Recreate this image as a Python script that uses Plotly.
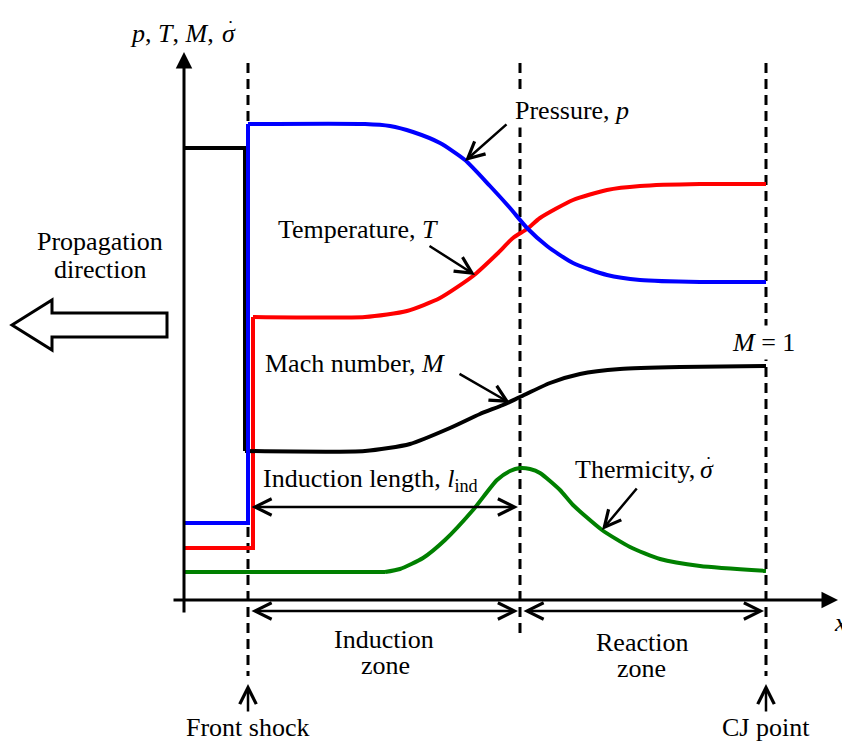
import plotly.graph_objects as go

# Schematic units: origin at the axes crossing, x to the right, y upward
# ---- curve data ----
p_step_x = [0, 64, 64]
p_step_y = [77, 77, 476]
p_x = [64, 181, 206, 229, 256, 281, 306, 326, 343, 363, 389, 423, 456, 516, 582]
p_y = [476, 476, 474, 468, 457, 440, 414, 392, 372, 354, 337, 325, 320, 318, 318]

T_step_x = [0, 69, 69]
T_step_y = [52, 52, 283]
T_x = [69, 181, 223, 256, 289, 313, 329, 343, 356, 389, 423, 456, 516, 582]
T_y = [283, 283, 289, 302, 324, 346, 362, 371, 382, 400, 410, 414, 416, 416]

M_step_x = [0, 61, 61]
M_step_y = [452, 452, 149]
M_x = [61, 181, 226, 266, 296, 319, 336, 366, 396, 436, 496, 582]
M_y = [149, 149, 156, 172, 186, 195, 203, 217, 226, 231, 233, 234]

s_step_x = [0, 201]
s_step_y = [28, 28]
s_x = [201, 216, 239, 261, 289, 313, 326, 336, 346, 356, 376, 389, 418, 446, 476, 516, 582]
s_y = [28, 31, 42, 60, 90, 120, 129, 132, 131, 127, 110, 95, 70, 53, 41, 34, 29]

# key stations along x
x_shock = 64
x_ind = 336
x_cj = 582

# hollow "propagation direction" arrow outline
prop_x = [-172, -132, -132, -17, -17, -132, -132]
prop_y = [275, 300, 287, 287, 263, 263, 250]

FONT = "Times New Roman, Liberation Serif, serif"
fig = go.Figure()

def add_line(x, y, color, shape="linear"):
    fig.add_trace(go.Scatter(x=x, y=y, mode="lines",
                             line=dict(color=color, width=4, shape=shape, smoothing=0.6),
                             hoverinfo="skip", showlegend=False))

add_line(s_step_x, s_step_y, "#008000")
add_line(s_x, s_y, "#008000", "spline")
add_line(T_step_x, T_step_y, "#ff0000")
add_line(T_x, T_y, "#ff0000", "spline")
add_line(M_step_x, M_step_y, "#000000")
add_line(M_x, M_y, "#000000", "spline")
add_line(p_step_x, p_step_y, "#0000ff")
add_line(p_x, p_y, "#0000ff", "spline")

shapes = []
# dashed station lines
for xs, ybot in [(x_shock, -76), (x_ind, -36), (x_cj, -76)]:
    shapes.append(dict(type="line", xref="x", yref="y", x0=xs, x1=xs, y0=537, y1=ybot,
                       line=dict(color="black", width=3, dash="10px,6px"), layer="below"))
# hollow arrow
path = "M " + " L ".join(f"{a} {b}" for a, b in zip(prop_x, prop_y)) + " Z"
shapes.append(dict(type="path", xref="x", yref="y", path=path,
                   fillcolor="white", line=dict(color="black", width=3)))

ann = []
def arrow(x, y, ax, ay, head=5, both=False, size=1.3, width=2.5):
    d = dict(x=x, y=y, ax=ax, ay=ay, xref="x", yref="y", axref="x", ayref="y",
             text="", showarrow=True, arrowhead=head, arrowsize=size, arrowwidth=width,
             arrowcolor="black", standoff=0, startstandoff=0)
    if both:
        d.update(arrowside="end+start", startarrowhead=head, startarrowsize=size)
    ann.append(d)

def text(x, y, t, xanchor="center", bg=None, size=26):
    d = dict(x=x, y=y, xref="x", yref="y", text=t, showarrow=False,
             xanchor=xanchor, yanchor="middle",
             font=dict(family=FONT, size=size, color="black"))
    if bg:
        d.update(bgcolor=bg, borderpad=2)
    ann.append(d)

# axes with filled heads
arrow(0, 548, 0, -14, head=2, size=1.1, width=3)
arrow(654, 0, -12, 0, head=2, size=1.1, width=3)

# pointer arrows
arrow(281, 439, 324, 477)
arrow(291, 325, 244, 355)
arrow(326, 197, 274, 227)
arrow(418, 70, 454, 113)

# double arrows
arrow(334, 93, 66, 93, both=True)
arrow(334, -11, 66, -11, both=True)
arrow(580, -11, 338, -11, both=True)

# up arrows at bottom
arrow(x_shock, -84, x_shock, -113)
arrow(x_cj, -84, x_cj, -113)

# axis label with dotted sigma
text(-56, 567, "<i>p</i>, <i>T</i>, <i>M</i>,", xanchor="left")
text(45, 567, "<i>σ</i>")
text(46, 578, "•", size=9)
text(-84, 359, "Propagation")
text(-84, 331, "direction")
text(388, 490, "Pressure, <i>p</i>", bg="white")
text(174, 371, "Temperature, <i>T</i>")
text(171, 237, "Mach number, <i>M</i>")
text(579, 258, "<i>M</i> = 1", bg="white")
text(186, 120, "Induction length, <i>l</i><sub>ind</sub>")
text(389, 131, "Thermicity,", xanchor="left")
text(523, 131, "<i>σ</i>")
text(524, 142, "•", size=9)
text(200, -39, "Induction")
text(201, -65, "zone")
text(458, -42, "Reaction")
text(457, -68, "zone")
text(64, -127, "Front shock")
text(582, -127, "CJ point")
text(648, -22, "<i>x</i>", xanchor="left")

fig.update_layout(
    width=842, height=743,
    margin=dict(l=0, r=0, t=0, b=0),
    paper_bgcolor="white", plot_bgcolor="white",
    xaxis=dict(range=[-184, 658], visible=False, fixedrange=True),
    yaxis=dict(range=[-143, 600], visible=False, fixedrange=True),
    shapes=shapes, annotations=ann,
)
fig.write_html("out.html")
